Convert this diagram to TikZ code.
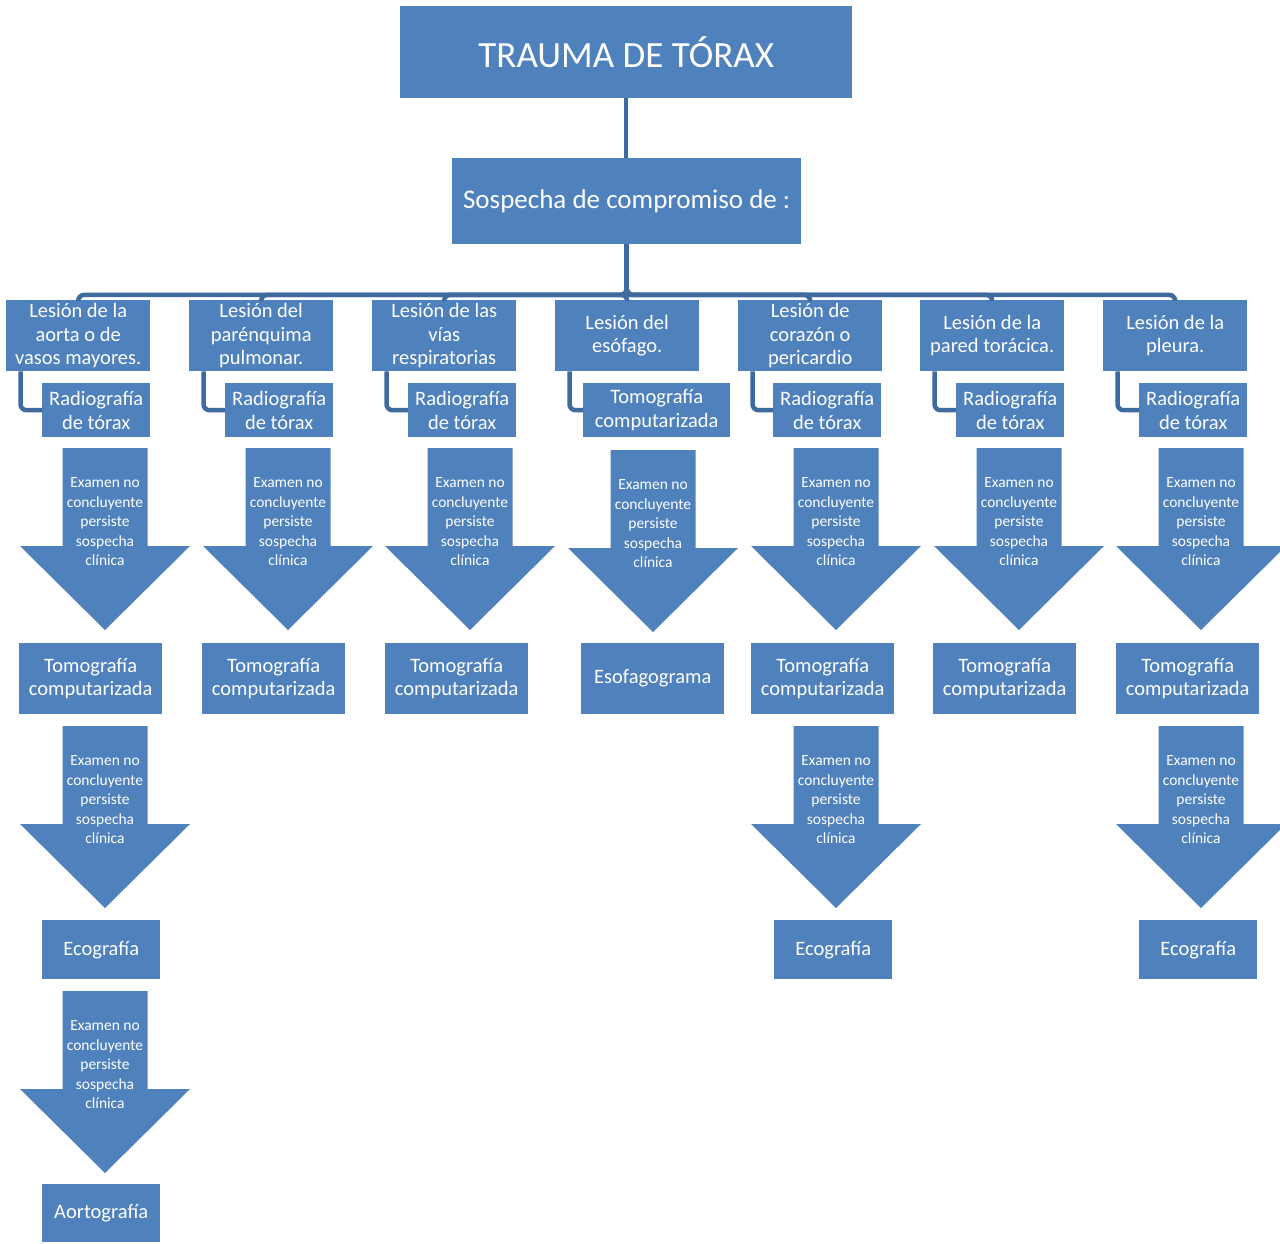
\documentclass[tikz,border=0pt]{standalone}
\usepackage{fontspec}
\setmainfont{Carlito}
\definecolor{boxblue}{RGB}{79,129,189}
\definecolor{lineblue}{RGB}{62,106,160}
\tikzset{
  box/.style={fill=boxblue, draw=none, text=white, align=center, inner sep=0pt,
    anchor=north west, font=\fontsize{20.5}{23.5}\selectfont},
  conn/.style={draw=lineblue, line width=4.5pt, rounded corners=6pt},
  arrtext/.style={text=white, align=center, inner sep=0pt,
    font=\fontsize{15.5}{19.5}\selectfont},
}
\newcommand\BlockArrow[3]{%
  \fill[boxblue] (#1-42.5,#2) -- (#1+42.5,#2) -- (#1+42.5,#2+98) -- (#1+85,#2+98)
    -- (#1,#2+182) -- (#1-85,#2+98) -- (#1-42.5,#2+98) -- cycle;
  \node[arrtext] (#3) at (#1,#2+74) {Examen no\\concluyente\\persiste\\sospecha\\clínica};
}
\begin{document}
\begin{tikzpicture}[x=1pt,y=-1pt]
\useasboundingbox (0,0) rectangle (1280,1243);
% top
\node[box, minimum width=452pt, minimum height=92pt, font=\fontsize{37}{40}\selectfont] (t) at (400,6) {TRAUMA DE TÓRAX};
\node[box, minimum width=349pt, minimum height=86pt, font=\fontsize{27}{30}\selectfont] (s) at (452,158) {Sospecha de compromiso de :};
% level 1
\node[box, minimum width=144pt, minimum height=71pt] (a1) at (6,300) {Lesión de la\\aorta o de\\vasos mayores.};
\node[box, minimum width=144pt, minimum height=71pt] (b1) at (189,300) {Lesión del\\parénquima\\pulmonar.};
\node[box, minimum width=144pt, minimum height=71pt] (c1) at (372,300) {Lesión de las\\vías\\respiratorias};
\node[box, minimum width=144pt, minimum height=71pt] (d1) at (555,300) {Lesión del\\esófago.};
\node[box, minimum width=144pt, minimum height=71pt] (e1) at (738,300) {Lesión de\\corazón o\\pericardio};
\node[box, minimum width=144pt, minimum height=71pt] (f1) at (920,300) {Lesión de la\\pared torácica.};
\node[box, minimum width=144pt, minimum height=71pt] (g1) at (1103,300) {Lesión de la\\pleura.};
% level 2
\node[box, minimum width=108pt, minimum height=54pt] (a2) at (42,383) {Radiografía\\de tórax};
\node[box, minimum width=108pt, minimum height=54pt] (b2) at (225,383) {Radiografía\\de tórax};
\node[box, minimum width=108pt, minimum height=54pt] (c2) at (408,383) {Radiografía\\de tórax};
\node[box, minimum width=147pt, minimum height=54pt] (d2) at (583,383) {Tomografía\\computarizada};
\node[box, minimum width=108pt, minimum height=54pt] (e2) at (773,383) {Radiografía\\de tórax};
\node[box, minimum width=108pt, minimum height=54pt] (f2) at (956,383) {Radiografía\\de tórax};
\node[box, minimum width=108pt, minimum height=54pt] (g2) at (1139,383) {Radiografía\\de tórax};
% connectors
\draw[conn, rounded corners=0pt] (t.south) -- (t.south |- s.north);
\foreach \n in {a1,b1,c1,d1,e1,f1,g1}{
  \draw[conn] (s.south) -- ++(0,50.5) -| (\n.north);
}
\foreach \p/\q in {a1/a2,b1/b2,c1/c2,d1/d2,e1/e2,f1/f2,g1/g2}{
  \draw[conn] ([xshift=14.5pt]\p.south west) |- (\q.west);
}
% first arrows
\BlockArrow{105}{448}{xa1}
\BlockArrow{288}{448}{xb1}
\BlockArrow{470}{448}{xc1}
\BlockArrow{653}{450}{xd1}
\BlockArrow{836}{448}{xe1}
\BlockArrow{1019}{448}{xf1}
\BlockArrow{1201}{448}{xg1}
% level 3
\node[box, minimum width=143pt, minimum height=71pt] (a3) at (19,643) {Tomografía\\computarizada};
\node[box, minimum width=143pt, minimum height=71pt] (b3) at (202,643) {Tomografía\\computarizada};
\node[box, minimum width=143pt, minimum height=71pt] (c3) at (385,643) {Tomografía\\computarizada};
\node[box, minimum width=143pt, minimum height=71pt] (d3) at (581,643) {Esofagograma};
\node[box, minimum width=143pt, minimum height=71pt] (e3) at (751,643) {Tomografía\\computarizada};
\node[box, minimum width=143pt, minimum height=71pt] (f3) at (933,643) {Tomografía\\computarizada};
\node[box, minimum width=143pt, minimum height=71pt] (g3) at (1116,643) {Tomografía\\computarizada};
% second arrows
\BlockArrow{105}{726}{xa2}
\BlockArrow{836}{726}{xe2}
\BlockArrow{1201}{726}{xg2}
% level 4
\node[box, minimum width=118pt, minimum height=59pt] (a4) at (42,920) {Ecografía};
\node[box, minimum width=118pt, minimum height=59pt] (e4) at (774,920) {Ecografía};
\node[box, minimum width=118pt, minimum height=59pt] (g4) at (1139,920) {Ecografía};
% third arrow
\BlockArrow{105}{991}{xa3}
\node[box, minimum width=118pt, minimum height=58pt] (a5) at (42,1184) {Aortografía};
\end{tikzpicture}
\end{document}
